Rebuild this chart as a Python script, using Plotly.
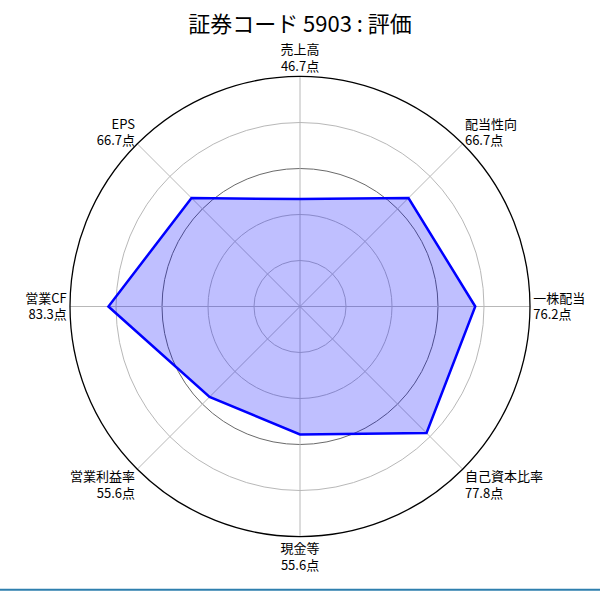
import plotly.graph_objects as go

# スコアデータ
categories = ['売上高', '配当性向', '一株配当', '自己資本比率', '現金等', '営業利益率', '営業CF', 'EPS']
scores = [46.7, 66.7, 76.2, 77.8, 55.6, 55.6, 83.3, 66.7]
title_text = '証券コード 5903 : 評価'

grid_light = [20, 40, 80]
grid_mark = [60]

FONT = 'Noto Sans CJK JP'

ticktext = [f'{c}<br>{s:.1f}点' for c, s in zip(categories, scores)]

fig = go.Figure()

# 下のレイヤー: 60点の基準円
fig.add_trace(go.Scatterpolar(r=[], theta=[], subplot='polar', showlegend=False))

# 上のレイヤー: レーダー本体
fig.add_trace(go.Scatterpolar(
    r=scores + scores[:1],
    theta=categories + categories[:1],
    mode='lines',
    line=dict(color='#0000ff', width=2.5),
    fill='toself',
    fillcolor='rgba(0,0,255,0.25)',
    subplot='polar2',
    showlegend=False,
    hoverinfo='skip'
))

domain = dict(x=[70/600, 530/600], y=[55/592, 516/592])

fig.update_layout(
    width=600,
    height=592,
    margin=dict(l=0, r=0, t=0, b=0),
    paper_bgcolor='white',
    font=dict(family=FONT, size=13, color='black'),
    title=dict(text=title_text, x=0.5, xanchor='center', y=1 - 24/592, yanchor='middle',
               font=dict(family=FONT, size=22, color='black')),
    polar=dict(
        domain=domain,
        bgcolor='white',
        radialaxis=dict(range=[0, 100], tickvals=grid_mark, showticklabels=False, ticks='',
                        showline=False, gridcolor='#6a6a6a', gridwidth=1.3),
        angularaxis=dict(visible=False),
    ),
    polar2=dict(
        domain=domain,
        bgcolor='rgba(0,0,0,0)',
        radialaxis=dict(range=[0, 100], tickvals=grid_light, showticklabels=False, ticks='',
                        showline=False, gridcolor='#b8b8b8', gridwidth=1),
        angularaxis=dict(
            type='category',
            categoryarray=categories,
            tickvals=categories,
            ticktext=ticktext,
            direction='clockwise',
            rotation=90,
            ticks='',
            showline=True,
            linecolor='black',
            linewidth=1.3,
            gridcolor='#b8b8b8',
            gridwidth=1,
            tickfont=dict(family=FONT, size=13, color='black'),
        ),
    ),
    shapes=[dict(type='line', xref='paper', yref='paper', x0=0, x1=1, y0=0.004, y1=0.004,
                 line=dict(color='#2e7fae', width=2))],
)

# ページ余白を消して図をウィンドウ左上に合わせる
fig.write_html('out.html', config={'displayModeBar': False},
               post_script="document.body.style.margin='0px';")
